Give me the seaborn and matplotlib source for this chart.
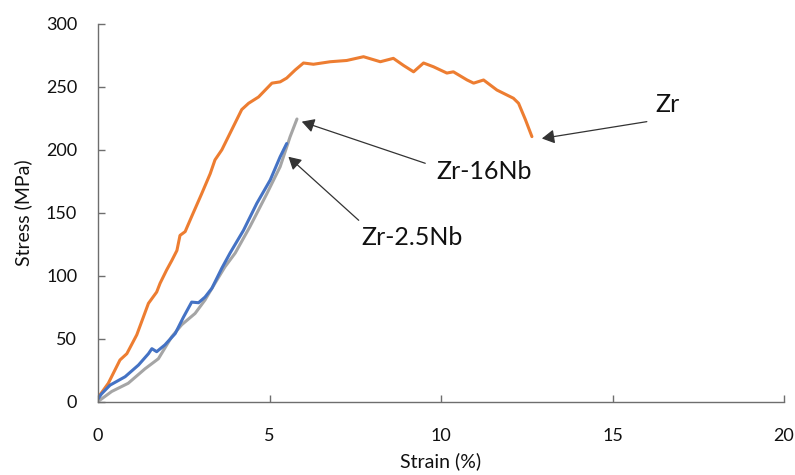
import matplotlib
matplotlib.use("Agg")
import matplotlib.pyplot as plt
import seaborn as sns
import pandas as pd

# --- data ---
zr_strain = [0, 0.05, 0.3, 0.64, 0.84, 1.13, 1.47, 1.71, 1.81, 2.0, 2.15, 2.3, 2.39, 2.54,
             2.73, 3.02, 3.27, 3.41, 3.61, 3.9, 4.19, 4.39, 4.68, 5.07, 5.31, 5.5, 5.75,
             5.99, 6.28, 6.77, 7.25, 7.74, 8.23, 8.61, 8.91, 9.2, 9.49, 9.78, 10.17,
             10.36, 10.76, 10.95, 11.24, 11.63, 12.11, 12.26, 12.46, 12.65]
zr_stress = [3, 5, 14.5, 33, 38, 53, 78, 87, 94, 104.5, 112, 120, 132, 135,
             147, 165, 181, 192, 200, 216, 232, 237, 242, 253, 254, 257, 263.5,
             269, 268, 270, 271, 274, 270, 272.7, 267, 262, 269, 266, 261,
             262, 255.5, 253, 255.5, 247.5, 241, 237, 224, 210.5]

nb25_strain = [0, 0.1, 0.35, 0.79, 1.18, 1.47, 1.57, 1.71, 1.95, 2.25, 2.49, 2.73, 2.93,
               3.12, 3.32, 3.61, 3.85, 4.24, 4.63, 5.02, 5.31, 5.5]
nb25_stress = [2, 6, 13, 19.7, 29, 38, 42, 39.6, 45, 54, 67, 79, 78.5,
               83, 90, 106, 118, 136, 157.5, 176, 194.5, 205]

nb16_strain = [0, 0.4, 0.88, 1.37, 1.76, 2.15, 2.44, 2.83, 3.12, 3.41, 3.7, 4.0, 4.43,
               4.92, 5.31, 5.6, 5.8]
nb16_stress = [0, 8, 14.5, 26, 34, 51.5, 61, 70, 80.7, 94, 107, 118, 139,
               165, 186.6, 210.4, 224.5]

series_names = ["Zr", "Zr-2.5Nb", "Zr-16Nb"]
series_colors = ["#ED7D31", "#4472C4", "#A5A5A5"]

x_ticks = [0, 5, 10, 15, 20]
y_ticks = [0, 50, 100, 150, 200, 250, 300]

frames = []
for name, xs, ys in zip(series_names,
                        [zr_strain, nb25_strain, nb16_strain],
                        [zr_stress, nb25_stress, nb16_stress]):
    frames.append(pd.DataFrame({"Strain": xs, "Stress": ys, "Alloy": name,
                                "order": range(len(xs))}))
df = pd.concat(frames, ignore_index=True)

sns.set_theme(style="white")
plt.rcParams["font.family"] = ["Lato", "DejaVu Sans"]

fig = plt.figure(figsize=(7.95, 4.75), dpi=100)
ax = fig.add_axes([0.1233, 0.1547, 0.8629, 0.7948])

# draw order: Zr, then grey, then blue on top
for name in ["Zr", "Zr-16Nb", "Zr-2.5Nb"]:
    sub = df[df["Alloy"] == name]
    sns.lineplot(data=sub, x="Strain", y="Stress", sort=False, estimator=None,
                 color=series_colors[series_names.index(name)], linewidth=2.2,
                 ax=ax, legend=False)

ax.set_xlim(0, 20)
ax.set_ylim(0, 300)
ax.set_xticks(x_ticks)
ax.set_yticks(y_ticks)
ax.set_xticklabels([str(v) for v in x_ticks])
ax.set_yticklabels([str(v) for v in y_ticks])

spine_color = "#6e6e6e"
for s in ["top", "right"]:
    ax.spines[s].set_visible(False)
for s in ["left", "bottom"]:
    ax.spines[s].set_color(spine_color)
    ax.spines[s].set_linewidth(1.0)

ax.tick_params(axis="both", direction="in", length=5, width=1, color=spine_color,
               labelsize=13, labelcolor="#111111")
ax.tick_params(axis="x", bottom=True, pad=19)
ax.tick_params(axis="y", left=True, pad=15)

ax.set_xlabel("Strain (%)", fontsize=14, color="#111111", labelpad=6)
ax.set_ylabel("Stress (MPa)", fontsize=14, color="#111111", labelpad=10)
ax.grid(False)

arrow_kw = dict(arrowstyle="-|>,head_length=0.5,head_width=0.28", color="#333333",
                lw=0.9, mutation_scale=15, shrinkA=0, shrinkB=0)
ax.annotate("", xy=(12.94, 209), xytext=(16.0, 222.4), arrowprops=arrow_kw)
ax.annotate("", xy=(5.94, 222.4), xytext=(9.54, 189.3), arrowprops=arrow_kw)
ax.annotate("", xy=(5.55, 194.5), xytext=(7.6, 144), arrowprops=arrow_kw)

ax.text(16.6, 235.7, "Zr", fontsize=18, ha="center", va="center", color="#111111")
ax.text(11.26, 182.4, "Zr-16Nb", fontsize=18, ha="center", va="center", color="#111111")
ax.text(9.16, 130, "Zr-2.5Nb", fontsize=18, ha="center", va="center", color="#111111")

fig.savefig("out.png", dpi=100)
